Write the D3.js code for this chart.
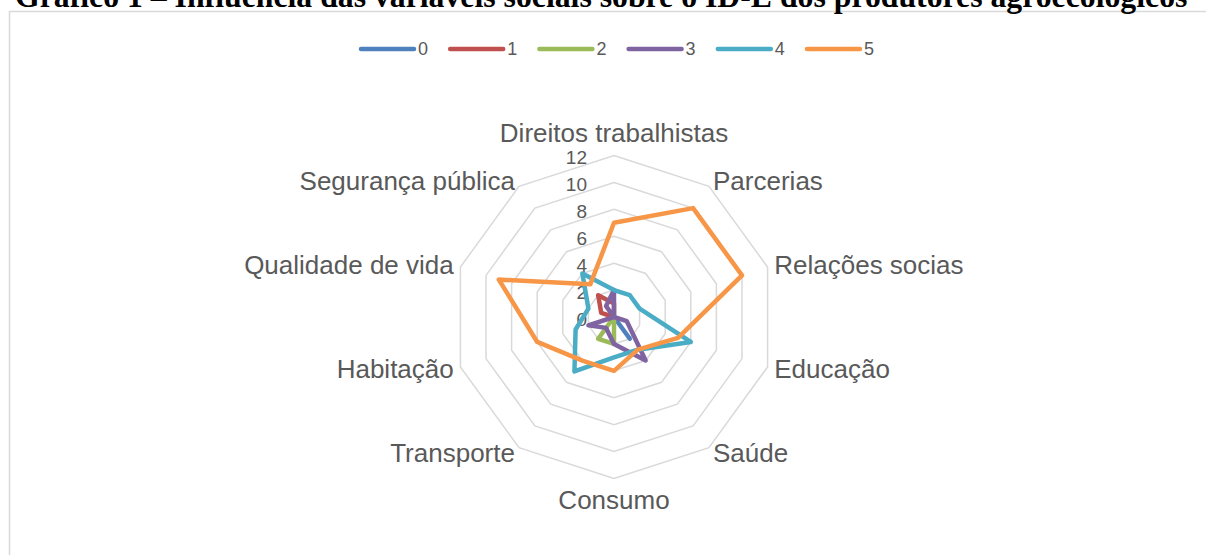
<!DOCTYPE html>
<html>
<head>
<meta charset="utf-8">
<script src="https://cdnjs.cloudflare.com/ajax/libs/d3/7.8.5/d3.min.js"></script>
<style>
    body { margin: 0; background: #fff; }
    svg { display: block; }
</style>
</head>
<body>
<svg id="canvas"></svg>
<script>
let titleText = "Gráfico 1 – Influência das variáveis sociais sobre o ID-E dos produtores agroecológicos"

let categories = ["Direitos trabalhistas", "Parcerias", "Relações socias", "Educação", "Saúde",
    "Consumo", "Transporte", "Habitação", "Qualidade de vida", "Segurança pública"]

let seriesNames = ["0", "1", "2", "3", "4", "5"]
let serie0 = [0, 0, 0, 0, 2, 0, 0, 0, 0, 0]
let serie1 = [1, 0, 0, 0, 0, 0, 0, 0, 1, 2]
let serie2 = [0, 0, 0, 0, 0, 2, 2, 0, 0, 0]
let serie3 = [2, 0, 0, 1, 4, 2, 1, 2, 0, 1]
let serie4 = [2, 2, 2, 6, 3, 3, 5, 3, 2, 4]
let serie5 = [7, 10, 10, 5, 3, 4, 4, 6, 9, 3]

let tickValues = [0, 2, 4, 6, 8, 10, 12]
let colors = ["#4F81BD", "#C0504D", "#9BBB59", "#8064A2", "#4BACC6", "#F79646"]

let width = 1206, height = 555
let cx = 614, cy = 317, R = 161.5

let svg = d3.select("#canvas")
    .attr("width", width)
    .attr("height", height)

// chart frame (runs past the right / bottom edge)
svg.append("rect")
    .attr("x", 9.5).attr("y", 11.5)
    .attr("width", 1300).attr("height", 700)
    .attr("fill", "#fff")
    .attr("stroke", "#d9d9d9")
    .attr("stroke-width", 1.5)

// title, cut by the top of the picture as in the source
let title = svg.append("text")
    .attr("x", 15).attr("y", 7)
    .attr("font-family", "'Liberation Serif', 'Times New Roman', serif")
    .attr("font-weight", "bold")
    .attr("font-size", 20)
    .attr("fill", "#000")
    .text(titleText)
let tl = title.node().getComputedTextLength()
title.attr("font-size", 20 * 1173 / tl)

let r = d3.scaleLinear().domain([0, 12]).range([0, R])
let angle = d3.scaleLinear().domain([0, categories.length]).range([0, 2 * Math.PI])

let pointAt = (i, v) => [cx + r(v) * Math.sin(angle(i)), cy - r(v) * Math.cos(angle(i))]

// grid rings
let ring = d3.line().curve(d3.curveLinearClosed)
svg.append("g").selectAll("path")
    .data(tickValues.filter(d => d > 0))
    .enter().append("path")
    .attr("d", v => ring(categories.map((c, i) => pointAt(i, v))))
    .attr("fill", "none")
    .attr("stroke", "#d9d9d9")
    .attr("stroke-width", 1.5)

// tick labels
svg.append("g").selectAll("text")
    .data(tickValues)
    .enter().append("text")
    .attr("x", cx - 27)
    .attr("y", d => cy - r(d) + 2)
    .attr("dy", "0.35em")
    .attr("text-anchor", "end")
    .attr("font-family", "'Liberation Sans', Arial, sans-serif")
    .attr("font-size", 19)
    .attr("fill", "#595959")
    .text(d => d)

// category labels
svg.append("g").selectAll("text")
    .data(categories)
    .enter().append("text")
    .attr("x", (d, i) => {
        let s = Math.sin(angle(i))
        return pointAt(i, 12)[0] + (Math.abs(s) < 0.01 ? 0 : 7 * s)
    })
    .attr("y", (d, i) => {
        let s = Math.sin(angle(i)), c = Math.cos(angle(i))
        let vy = pointAt(i, 12)[1]
        if (Math.abs(s) < 0.01) return c > 0 ? vy - 13.5 : vy + 30
        return vy - 6.5 * c + 9.3
    })
    .attr("text-anchor", (d, i) => {
        let s = Math.sin(angle(i))
        if (Math.abs(s) < 0.01) return "middle"
        return s > 0 ? "start" : "end"
    })
    .attr("font-family", "'Liberation Sans', Arial, sans-serif")
    .attr("font-size", 26)
    .attr("fill", "#595959")
    .text(d => d)

// series, 0 first so 5 ends on top
let allSeries = [serie0, serie1, serie2, serie3, serie4, serie5]
svg.append("g").selectAll("path")
    .data(allSeries)
    .enter().append("path")
    .attr("d", vals => ring(vals.map((v, i) => pointAt(i, v))))
    .attr("fill", "none")
    .attr("stroke", (d, i) => colors[i])
    .attr("stroke-width", 4.5)
    .attr("stroke-linejoin", "round")

// legend
let legend = svg.append("g").selectAll("g")
    .data(seriesNames)
    .enter().append("g")
    .attr("transform", (d, i) => "translate(" + (361 + i * 89.2) + ",49)")

legend.append("line")
    .attr("x1", 0).attr("x2", 53)
    .attr("stroke", (d, i) => colors[i])
    .attr("stroke-width", 4.5)
    .attr("stroke-linecap", "round")

legend.append("text")
    .attr("x", 57)
    .attr("dy", "0.35em")
    .attr("font-family", "'Liberation Sans', Arial, sans-serif")
    .attr("font-size", 18)
    .attr("fill", "#595959")
    .text(d => d)
</script>
</body>
</html>
